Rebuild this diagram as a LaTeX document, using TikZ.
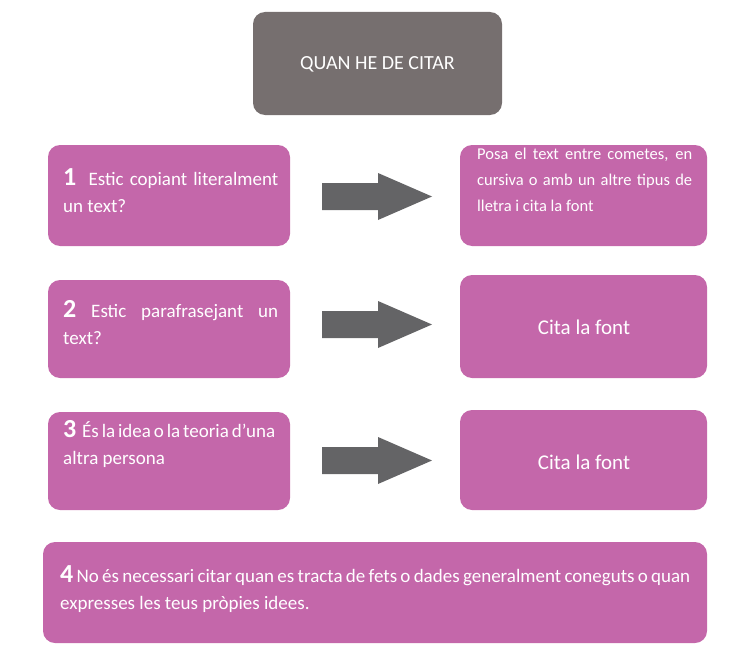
\documentclass[tikz,border=0pt]{standalone}
\usepackage{fontspec}
\setmainfont{Carlito}
\usetikzlibrary{shapes.arrows}
\definecolor{pinkbox}{RGB}{196,103,170}
\definecolor{graybox}{RGB}{118,111,111}
\definecolor{arrowgray}{RGB}{100,100,102}
\begin{document}
\begin{tikzpicture}[x=1pt,y=-1pt,
  box/.style={fill=pinkbox,rounded corners=12pt,draw=none},
  txt/.style={text=white,font=\fontsize{19}{27}\selectfont,align=justify,inner sep=0pt},
  arr/.style={fill=arrowgray,draw=none}]
\useasboundingbox (0,0) rectangle (744,669);
\fill[graybox,rounded corners=12pt] (253,12) rectangle (502,115);
\node[text=white,font=\fontsize{20}{24}\selectfont] (title) at (377.5,64) {QUAN HE DE CITAR};
% row 1
\fill[box] (48,145) rectangle (290,246);
\node[txt,text width=215pt,anchor=north west] (l1) at (63,168) {{\fontsize{26}{27}\selectfont\bfseries 1}\ \ Estic copiant literalment un text?};
\fill[box] (460,145) rectangle (707,246);
\node[txt,font=\fontsize{16.5}{26}\selectfont,text width=215pt,anchor=north west] (r1) at (477,148) {Posa el text entre cometes, en cursiva o amb un altre tipus de lletra i cita la font};
\fill[arr] (322,183) -- (378,183) -- (378,173) -- (432,196.5) -- (378,220) -- (378,210) -- (322,210) -- cycle;
% row 2
\fill[box] (48,280) rectangle (290,378);
\node[txt,text width=215pt,anchor=north west] (l2) at (63,300) {{\fontsize{26}{27}\selectfont\bfseries 2} Estic parafrasejant un text?};
\fill[box] (460,275) rectangle (707,378);
\node[text=white,font=\fontsize{21}{25}\selectfont] (r2) at (584,327) {Cita la font};
\fill[arr] (322,311) -- (378,311) -- (378,301) -- (432,324.5) -- (378,348) -- (378,338) -- (322,338) -- cycle;
% row 3
\fill[box] (48,412) rectangle (290,510);
\node[txt,text width=212pt,anchor=north west] (l3) at (63,420) {{\fontsize{26}{27}\selectfont\bfseries 3}\ \ És la idea o la teoria d’una altra persona};
\fill[box] (460,410) rectangle (707,510);
\node[text=white,font=\fontsize{21}{25}\selectfont] (r3) at (584,462) {Cita la font};
\fill[arr] (322,447) -- (378,447) -- (378,437) -- (432,460.5) -- (378,484) -- (378,474) -- (322,474) -- cycle;
% row 4
\fill[box] (43,542) rectangle (707,643);
\node[txt,text width=630pt,anchor=north west] (l4) at (60,565) {{\fontsize{26}{27}\selectfont\bfseries 4} No és necessari citar quan es tracta de fets o dades generalment coneguts o quan expresses les teus pròpies idees.};
\end{tikzpicture}
\end{document}
